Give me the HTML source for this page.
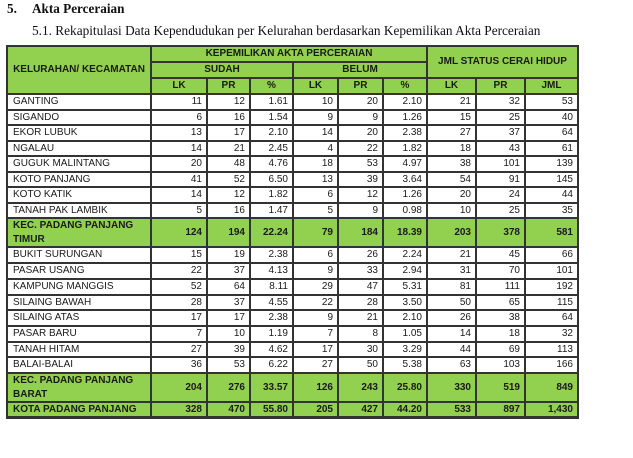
<!DOCTYPE html>
<html><head><meta charset="utf-8">
<style>
html,body{margin:0;padding:0;background:#fff;width:633px;height:458px;overflow:hidden;position:relative;}
.t1{position:absolute;top:1px;left:7px;font:bold 13.2px/15px "Liberation Serif",serif;color:#111;white-space:nowrap;}
.t1 span{position:absolute;left:25px;}
.t2{position:absolute;top:23px;left:32px;font:13.3px/15px "Liberation Serif",serif;color:#111;white-space:nowrap;}
.g{position:absolute;left:6px;top:45px;width:573px;height:374px;box-sizing:border-box;padding:2px;background:#333;display:grid;
grid-template-columns:142px 54px 41px 41px 43px 43px 42px 47px 47px 51px;
grid-template-rows:14px 14px 14px 14px 13px 14px 13px 14px 13px 14px 13px 27px 14px 14px 14px 13px 14px 14px 13px 14px 27px 13px;
gap:2px;font-family:"Liberation Sans",sans-serif;font-size:10px;color:#1a1a1a;}
.g div{background:#fff;display:flex;align-items:center;justify-content:flex-end;padding-right:4px;white-space:nowrap;overflow:hidden;line-height:12px;}
.g div.n{justify-content:flex-start;padding-left:5px;padding-right:0;}
.g div.h{background:#92d050;font-weight:bold;justify-content:center;padding:0;}
.g div.k{background:#92d050;font-weight:bold;}
.g div.kn{background:#92d050;font-weight:bold;justify-content:flex-start;padding-left:5px;padding-right:0;line-height:13.5px;white-space:normal;}
</style></head><body>
<div class="t1">5.<span>Akta Perceraian</span></div>
<div class="t2">5.1. Rekapitulasi Data Kependudukan per Kelurahan berdasarkan Kepemilikan Akta Perceraian</div>
<div class="g">
<div class="h" style="grid-column:1;grid-row:1/4;">KELURAHAN/ KECAMATAN</div>
<div class="h" style="grid-column:2/8;grid-row:1;">KEPEMILIKAN AKTA PERCERAIAN</div>
<div class="h" style="grid-column:8/11;grid-row:1/3;">JML STATUS CERAI HIDUP</div>
<div class="h" style="grid-column:2/5;grid-row:2;">SUDAH</div>
<div class="h" style="grid-column:5/8;grid-row:2;">BELUM</div>
<div class="h" style="grid-column:2;grid-row:3;">LK</div>
<div class="h" style="grid-column:3;grid-row:3;">PR</div>
<div class="h" style="grid-column:4;grid-row:3;">%</div>
<div class="h" style="grid-column:5;grid-row:3;">LK</div>
<div class="h" style="grid-column:6;grid-row:3;">PR</div>
<div class="h" style="grid-column:7;grid-row:3;">%</div>
<div class="h" style="grid-column:8;grid-row:3;">LK</div>
<div class="h" style="grid-column:9;grid-row:3;">PR</div>
<div class="h" style="grid-column:10;grid-row:3;">JML</div>

<div class="n">GANTING</div><div>11</div><div>12</div><div>1.61</div><div>10</div><div>20</div><div>2.10</div><div>21</div><div>32</div><div>53</div>
<div class="n">SIGANDO</div><div>6</div><div>16</div><div>1.54</div><div>9</div><div>9</div><div>1.26</div><div>15</div><div>25</div><div>40</div>
<div class="n">EKOR LUBUK</div><div>13</div><div>17</div><div>2.10</div><div>14</div><div>20</div><div>2.38</div><div>27</div><div>37</div><div>64</div>
<div class="n">NGALAU</div><div>14</div><div>21</div><div>2.45</div><div>4</div><div>22</div><div>1.82</div><div>18</div><div>43</div><div>61</div>
<div class="n">GUGUK MALINTANG</div><div>20</div><div>48</div><div>4.76</div><div>18</div><div>53</div><div>4.97</div><div>38</div><div>101</div><div>139</div>
<div class="n">KOTO PANJANG</div><div>41</div><div>52</div><div>6.50</div><div>13</div><div>39</div><div>3.64</div><div>54</div><div>91</div><div>145</div>
<div class="n">KOTO KATIK</div><div>14</div><div>12</div><div>1.82</div><div>6</div><div>12</div><div>1.26</div><div>20</div><div>24</div><div>44</div>
<div class="n">TANAH PAK LAMBIK</div><div>5</div><div>16</div><div>1.47</div><div>5</div><div>9</div><div>0.98</div><div>10</div><div>25</div><div>35</div>
<div class="kn">KEC. PADANG PANJANG<br>TIMUR</div><div class="k">124</div><div class="k">194</div><div class="k">22.24</div><div class="k">79</div><div class="k">184</div><div class="k">18.39</div><div class="k">203</div><div class="k">378</div><div class="k">581</div>
<div class="n">BUKIT SURUNGAN</div><div>15</div><div>19</div><div>2.38</div><div>6</div><div>26</div><div>2.24</div><div>21</div><div>45</div><div>66</div>
<div class="n">PASAR USANG</div><div>22</div><div>37</div><div>4.13</div><div>9</div><div>33</div><div>2.94</div><div>31</div><div>70</div><div>101</div>
<div class="n">KAMPUNG MANGGIS</div><div>52</div><div>64</div><div>8.11</div><div>29</div><div>47</div><div>5.31</div><div>81</div><div>111</div><div>192</div>
<div class="n">SILAING BAWAH</div><div>28</div><div>37</div><div>4.55</div><div>22</div><div>28</div><div>3.50</div><div>50</div><div>65</div><div>115</div>
<div class="n">SILAING ATAS</div><div>17</div><div>17</div><div>2.38</div><div>9</div><div>21</div><div>2.10</div><div>26</div><div>38</div><div>64</div>
<div class="n">PASAR BARU</div><div>7</div><div>10</div><div>1.19</div><div>7</div><div>8</div><div>1.05</div><div>14</div><div>18</div><div>32</div>
<div class="n">TANAH HITAM</div><div>27</div><div>39</div><div>4.62</div><div>17</div><div>30</div><div>3.29</div><div>44</div><div>69</div><div>113</div>
<div class="n">BALAI-BALAI</div><div>36</div><div>53</div><div>6.22</div><div>27</div><div>50</div><div>5.38</div><div>63</div><div>103</div><div>166</div>
<div class="kn">KEC. PADANG PANJANG<br>BARAT</div><div class="k">204</div><div class="k">276</div><div class="k">33.57</div><div class="k">126</div><div class="k">243</div><div class="k">25.80</div><div class="k">330</div><div class="k">519</div><div class="k">849</div>
<div class="kn">KOTA PADANG PANJANG</div><div class="k">328</div><div class="k">470</div><div class="k">55.80</div><div class="k">205</div><div class="k">427</div><div class="k">44.20</div><div class="k">533</div><div class="k">897</div><div class="k">1,430</div>
</div>
</body></html>
